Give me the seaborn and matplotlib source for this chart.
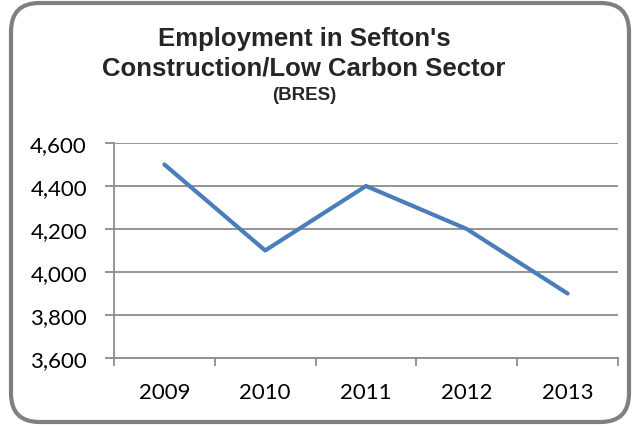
import matplotlib
matplotlib.use("Agg")
import matplotlib.pyplot as plt
from matplotlib.patches import FancyBboxPatch
from matplotlib.ticker import FixedLocator, FuncFormatter
import seaborn as sns
import pandas as pd

years = ["2009", "2010", "2011", "2012", "2013"]
employment = [4500, 4100, 4400, 4200, 3900]
y_ticks = [3600, 3800, 4000, 4200, 4400, 4600]

sns.set_theme(style="white")
plt.rcParams["font.family"] = ["Lato", "DejaVu Sans"]

df = pd.DataFrame({"year": years, "employment": employment})

W, H = 633, 427
fig = plt.figure(figsize=(W / 100, H / 100), dpi=100)
ax = fig.add_axes([114 / W, 1 - 359 / H, 504 / W, 215 / H])

sns.lineplot(data=df, x="year", y="employment", ax=ax, color="#4A7EBB",
             linewidth=3, sort=False)

ax.set_xlim(-0.5, len(years) - 0.5)
ax.set_ylim(y_ticks[0], y_ticks[-1])
ax.set_yticks(y_ticks)
ax.yaxis.set_major_formatter(FuncFormatter(lambda v, p: f"{int(v):,}"))
ax.yaxis.grid(True, color="#8c8c8c", linewidth=1.3)
ax.set_axisbelow(True)
ax.set_xlabel("")
ax.set_ylabel("")

for side in ("top", "right"):
    ax.spines[side].set_visible(False)
for side in ("left", "bottom"):
    ax.spines[side].set_color("#8c8c8c")
    ax.spines[side].set_linewidth(1.3)

ax.tick_params(axis="y", which="major", left=True, length=6.5, width=1.3,
               color="#8c8c8c", labelsize=16, pad=13, labelcolor="black")
ax.tick_params(axis="x", which="major", bottom=False, length=0, labelsize=16,
               pad=17, labelcolor="black")
ax.xaxis.set_minor_locator(FixedLocator([i - 0.5 for i in range(len(years) + 1)]))
ax.tick_params(axis="x", which="minor", bottom=True, length=6, width=1.3,
               color="#8c8c8c", direction="out")

title_font = ["Liberation Sans", "DejaVu Sans"]
cx = 304 / W
fig.text(cx, 1 - 46 / H, "Employment in Sefton's", ha="center",
         va="baseline", fontsize=18.5, fontweight="bold", family=title_font)
fig.text(cx, 1 - 76 / H, "Construction/Low Carbon Sector", ha="center",
         va="baseline", fontsize=18.5, fontweight="bold", family=title_font)
fig.text(cx, 1 - 100 / H, "(BRES)", ha="center", va="baseline",
         fontsize=13.5, fontweight="bold", family=title_font)

border = FancyBboxPatch((11 / W, 4 / H), 618 / W, 419 / H,
                        boxstyle="round,pad=0,rounding_size=0.045",
                        transform=fig.transFigure, facecolor="none",
                        edgecolor="#808080", linewidth=3, mutation_aspect=W / H)
fig.patches.append(border)

fig.savefig("out.png", dpi=100)
